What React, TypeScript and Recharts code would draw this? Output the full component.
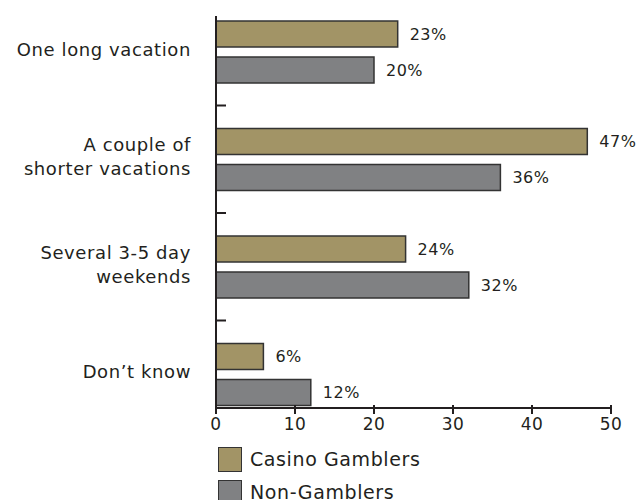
import React from 'react';
import { BarChart, Bar, XAxis, YAxis, LabelList } from 'recharts';

const categories = ['One long vacation', 'A couple of\nshorter vacations', 'Several 3-5 day\nweekends', 'Don\u2019t know'];
const casinoGamblers = [23, 47, 24, 6];
const nonGamblers = [20, 36, 32, 12];
const xTicks = [0, 10, 20, 30, 40, 50];
const seriesNames = ['Casino Gamblers', 'Non-Gamblers'];
const seriesColors = ['#A29466', '#808183'];

const data = categories.map((c, i) => ({ name: c, casino: casinoGamblers[i], non: nonGamblers[i] }));

const FONT = '"DejaVu Sans", sans-serif';
const TEXT = '#231f20';
const AXIS = '#231f20';

const YTick = (props: any) => {
  const { x, y, payload, index } = props;
  const ax = x + 10;
  const lines = String(payload.value).split('\n');
  const lh = 24;
  const startY = y - 3 - ((lines.length - 1) * lh) / 2;
  return (
    <g>
      <text x={ax - 27} y={startY} textAnchor="end" dominantBaseline="central" fontFamily={FONT} fontSize={18} letterSpacing={0.6} fill={TEXT}>
        {lines.map((l, i) => (
          <tspan key={i} x={ax - 27} y={startY + i * lh}>{l}</tspan>
        ))}
      </text>
      {index < categories.length - 1 && (
        <line x1={ax - 3} x2={ax + 8} y1={y + 53.75} y2={y + 53.75} stroke={AXIS} strokeWidth={2} />
      )}
    </g>
  );
};

const XTick = (props: any) => {
  const { x, y, payload } = props;
  return (
    <g>
      <line x1={x} x2={x} y1={y - 2} y2={y - 11} stroke={AXIS} strokeWidth={2} />
      <text x={x} y={y + 8} textAnchor="middle" dominantBaseline="central" fontFamily={FONT} fontSize={17} letterSpacing={0.5} fill={TEXT}>
        {payload.value}
      </text>
    </g>
  );
};

const fmt = (v: any) => `${v}%`;

export default function App() {
  return (
    <div style={{ position: 'absolute', left: 0, top: 0, width: 639, height: 500, background: '#fff', overflow: 'hidden' }}>
      <BarChart
        width={639}
        height={500}
        data={data}
        layout="vertical"
        margin={{ top: 16, right: 28, bottom: 62, left: 0 }}
        barSize={26}
        barGap={10}
      >
        <XAxis
          type="number"
          domain={[0, 50]}
          ticks={xTicks}
          tick={<XTick />}
          tickLine={false}
          axisLine={{ stroke: AXIS, strokeWidth: 2 }}
          height={30}
          interval={0}
        />
        <YAxis
          type="category"
          dataKey="name"
          width={216}
          tick={<YTick />}
          tickLine={false}
          axisLine={{ stroke: AXIS, strokeWidth: 2 }}
          padding={{ top: -18, bottom: -20 }}
          interval={0}
        />
        <Bar dataKey="casino" name={seriesNames[0]} fill={seriesColors[0]} stroke="#333" strokeWidth={1.5} isAnimationActive={false}>
          <LabelList dataKey="casino" position="right" offset={12} formatter={fmt} fontFamily={FONT} fontSize={16} letterSpacing={0.5} fill={TEXT} />
        </Bar>
        <Bar dataKey="non" name={seriesNames[1]} fill={seriesColors[1]} stroke="#333" strokeWidth={1.5} isAnimationActive={false}>
          <LabelList dataKey="non" position="right" offset={12} formatter={fmt} fontFamily={FONT} fontSize={16} letterSpacing={0.5} fill={TEXT} />
        </Bar>
      </BarChart>
      <div style={{ position: 'absolute', left: 218, top: 446, fontFamily: FONT, fontSize: 19, letterSpacing: 0.6, color: TEXT }}>
        {seriesNames.map((n, i) => (
          <div key={n} style={{ display: 'flex', alignItems: 'center', height: 26, marginBottom: 7 }}>
            <div style={{ width: 24, height: 25, background: seriesColors[i], border: '1.5px solid #333', boxSizing: 'border-box', marginRight: 8 }} />
            <span>{n}</span>
          </div>
        ))}
      </div>
    </div>
  );
}
